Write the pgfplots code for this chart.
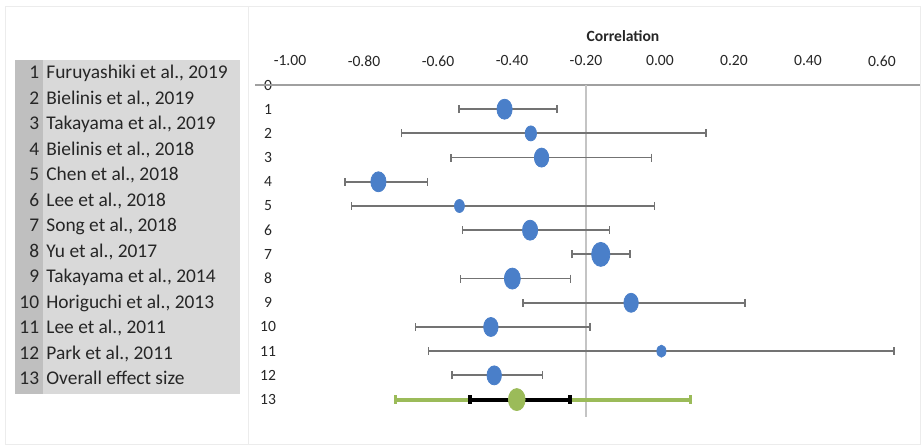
\documentclass[border=0pt]{standalone}
\usepackage{fontspec}
\setmainfont{Carlito}
\usepackage{pgfplots}
\usepackage{pgfplotstable}
\pgfplotsset{compat=1.18}

\definecolor{ptblue}{HTML}{4A7FC9}
\definecolor{ovgreen}{HTML}{9BBB59}
\definecolor{errgray}{HTML}{737373}
\definecolor{refgray}{HTML}{C4C4C4}
\definecolor{axgray}{HTML}{A0A0A0}
\definecolor{boxlight}{HTML}{D9D9D9}
\definecolor{boxdark}{HTML}{BFBFBF}
\definecolor{txt}{HTML}{262626}
\definecolor{frame}{HTML}{ECECEC}

% study, correlation, CI low, CI high, marker radius (pt)
\pgfplotstableread{
y    x      lo     hi     r
-1  -0.420 -0.543 -0.278 5.0
-2  -0.349 -0.698  0.124 3.75
-3  -0.320 -0.565 -0.023 4.75
-4  -0.761 -0.851 -0.628 5.0
-5  -0.542 -0.833 -0.014 3.25
-6  -0.351 -0.533 -0.137 5.0
-7  -0.160 -0.238 -0.081 6.0
-8  -0.399 -0.539 -0.241 5.25
-9  -0.078 -0.370  0.230 4.75
-10 -0.457 -0.660 -0.189 4.75
-11  0.004 -0.626  0.633 3.0
-12 -0.448 -0.562 -0.317 4.75
}\studies

% overall effect: estimate, outer interval, inner interval
\pgfplotstableread{
y    x      lo     hi    ilo    ihi
-13 -0.387 -0.715  0.083 -0.514 -0.243
}\overall

\begin{document}
\begin{tikzpicture}
\path[use as bounding box] (0,0) rectangle (462pt,222.5pt);

% faint frames
\draw[frame, line width=0.5pt] (2.5pt,0.5pt) rectangle (124pt,219pt);
\draw[frame, line width=0.5pt] (124pt,0.5pt) rectangle (460pt,219pt);

% study list box
\fill[boxlight] (7.5pt,25.5pt) rectangle (120pt,192.5pt);
\fill[boxdark] (7.5pt,25.5pt) rectangle (21.5pt,192.5pt);
\foreach \name [count=\i] in {
  {Furuyashiki et al., 2019},
  {Bielinis et al., 2019},
  {Takayama et al., 2019},
  {Bielinis et al., 2018},
  {Chen et al., 2018},
  {Lee et al., 2018},
  {Song et al., 2018},
  {Yu et al., 2017},
  {Takayama et al., 2014},
  {Horiguchi et al., 2013},
  {Lee et al., 2011},
  {Park et al., 2011},
  {Overall effect size}} {
  \pgfmathsetmacro{\yy}{(445-72.5-(\i-1)*25.5)*0.5-3.05}
  \node[anchor=base east, inner sep=0pt, text=txt, font=\fontsize{9.7}{11}\selectfont] at (19.75pt,\yy pt) {\i};
  \node[anchor=base west, inner sep=0pt, text=txt, font=\fontsize{9.7}{11}\selectfont] at (23pt,\yy pt) {\name};
}

\node[font=\bfseries\fontsize{7.8}{9}\selectfont, text=txt] at (311.5pt,204.5pt) {Correlation};

\begin{axis}[
    at={(127.5pt,14pt)}, anchor=south west,
    scale only axis,
    width=332.5pt, height=166pt,
    xmin=-1.0946, xmax=0.703,
    ymin=-13.72, ymax=0,
    axis line style={draw=none},
    major tick length=0pt,
    xtick={-1,-0.8,-0.6,-0.4,-0.2,0,0.2,0.4,0.6},
    xticklabel pos=upper,
    xticklabel style={anchor=center, yshift=12pt, text=txt,
        font=\fontsize{7.8}{9}\selectfont,
        /pgf/number format/fixed,
        /pgf/number format/fixed zerofill,
        /pgf/number format/precision=2,
        /pgf/number format/assume math mode=true},
    ytick={0,-1,-2,-3,-4,-5,-6,-7,-8,-9,-10,-11,-12,-13},
    yticklabels={0,1,2,3,4,5,6,7,8,9,10,11,12,13},
    yticklabel style={anchor=center, xshift=6.5pt, text=txt,
        font=\fontsize{7.8}{9}\selectfont},
    clip=false,
]
\draw[axgray, line width=1pt] (rel axis cs:0,1) -- (rel axis cs:1,1);
\addplot[refgray, line width=0.6pt] coordinates {(-0.2,0) (-0.2,-13.72)};

% study confidence intervals
\addplot[only marks, mark=none,
    error bars/.cd, x dir=both, x explicit, error mark=|,
    error bar style={line width=0.9pt, errgray},
    error mark options={errgray, line width=0.7pt, mark size=2pt}]
  table[x=x, y=y,
        x error plus expr=\thisrow{hi}-\thisrow{x},
        x error minus expr=\thisrow{x}-\thisrow{lo}] {\studies};

% study estimates, sized by weight
\addplot[scatter, only marks, mark=*, color=ptblue,
    mark options={xscale=0.76, draw=none, fill=ptblue},
    visualization depends on={\thisrow{r} \as \msize},
    scatter/@pre marker code/.code={\scope[mark size=\msize pt]},
    scatter/@post marker code/.code={\endscope}]
  table[x=x, y=y] {\studies};

% overall effect
\addplot[only marks, mark=none,
    error bars/.cd, x dir=both, x explicit, error mark=|,
    error bar style={line width=2pt, ovgreen},
    error mark options={ovgreen, line width=1.5pt, mark size=2.2pt}]
  table[x=x, y=y,
        x error plus expr=\thisrow{hi}-\thisrow{x},
        x error minus expr=\thisrow{x}-\thisrow{lo}] {\overall};
\addplot[only marks, mark=none,
    error bars/.cd, x dir=both, x explicit, error mark=|,
    error bar style={line width=2pt, black},
    error mark options={black, line width=2pt, mark size=2.2pt}]
  table[x=x, y=y,
        x error plus expr=\thisrow{ihi}-\thisrow{x},
        x error minus expr=\thisrow{x}-\thisrow{ilo}] {\overall};
\addplot[only marks, mark=*, mark size=5.5pt, color=ovgreen,
    mark options={xscale=0.76, draw=none, fill=ovgreen}]
  table[x=x, y=y] {\overall};
\end{axis}
\end{tikzpicture}
\end{document}
